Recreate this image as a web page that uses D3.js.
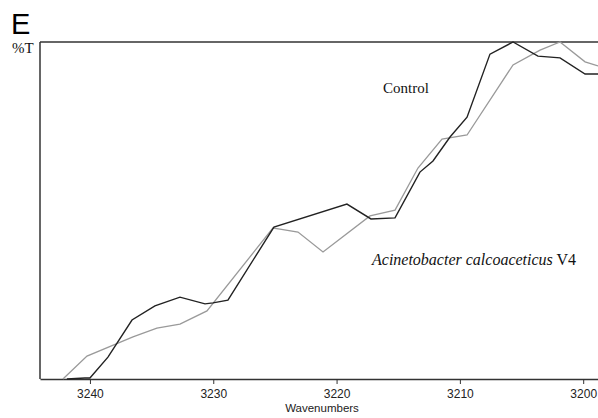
<!DOCTYPE html>
<html lang="en">
<head>
    <meta charset="utf-8">
    <title>FTIR E</title>
    <script type="text/javascript" src="https://d3js.org/d3.v7.min.js"></script>
    <style>
        body{
            margin: 0;
            background: white;
        }
        .axis text{
            font-family: "Liberation Sans", Arial, sans-serif;
            font-size: 12px;
            fill: #222;
        }
        .axis path, .axis line{
            stroke: #333;
        }
        .serif{
            font-family: "Liberation Serif", "Times New Roman", serif;
            fill: #111;
        }
    </style>
</head>
<body>
    <div id="chart"></div>
    <script type="text/javascript">
        // wavenumbers (cm-1) and %T
        const controlWave = [3241.87, 3240.41, 3240.0, 3238.54, 3236.59, 3234.73, 3232.70, 3230.67, 3230.02, 3228.81,
                             3225.08, 3219.16, 3217.21, 3215.26, 3213.24, 3212.18, 3210.80, 3209.42, 3207.56, 3205.69,
                             3203.67, 3201.88, 3199.85, 3198.80];
        const controlT = [0, 0.3, 0.3, 6.5, 17.5, 21.7, 24.3, 22.3, 22.6, 23.4,
                          45.1, 51.9, 47.5, 47.8, 61.4, 64.7, 71.8, 77.7, 96.4, 100,
                          95.8, 95.3, 90.5, 90.5];

        const v4Wave = [3242.19, 3240.24, 3236.51, 3234.57, 3232.70, 3230.51, 3225.16, 3224.59, 3223.13, 3221.10,
                        3217.29, 3215.26, 3213.40, 3211.45, 3209.42, 3205.69, 3203.50, 3201.88, 3199.85, 3198.80];
        const v4T = [0, 6.8, 12.5, 15.1, 16.3, 20.2, 44.8, 44.5, 43.6, 37.7,
                     48.4, 50.1, 62.6, 71.2, 72.4, 93.2, 97.6, 100, 94.1, 92.9];

        const xTicks = [3240, 3230, 3220, 3210, 3200];

        const width = 598;
        const height = 418;
        const margin = {left: 40, right: 0, top: 42, bottom: 39};

        const svg = d3.select("#chart")
            .append("svg")
            .attr("width", width)
            .attr("height", height);

        const x = d3.scaleLinear()
            .domain([3244.05, 3198.8])
            .range([margin.left, width - margin.right]);

        const y = d3.scaleLinear()
            .domain([0, 100])
            .range([height - margin.bottom, margin.top]);

        // frame: top and left lines
        svg.append("line")
            .attr("x1", margin.left).attr("x2", width)
            .attr("y1", margin.top).attr("y2", margin.top)
            .attr("stroke", "#333").attr("stroke-width", 1.5);
        svg.append("line")
            .attr("x1", margin.left).attr("x2", margin.left)
            .attr("y1", margin.top).attr("y2", height - margin.bottom)
            .attr("stroke", "#333").attr("stroke-width", 1.5);

        const xAxis = d3.axisBottom(x)
            .tickValues(xTicks)
            .tickFormat(d3.format("d"))
            .tickSize(5)
            .tickSizeOuter(0)
            .tickPadding(5);

        svg.append("g")
            .attr("class", "axis x")
            .attr("transform", `translate(0, ${height - margin.bottom})`)
            .call(xAxis)
            .call(g => g.select(".domain").attr("stroke-width", 1.5));

        const line = d3.line()
            .x(d => x(d[0]))
            .y(d => y(d[1]));

        const v4 = v4Wave.map((w, i) => [w, v4T[i]]);
        const control = controlWave.map((w, i) => [w, controlT[i]]);

        svg.append("path")
            .datum(v4)
            .attr("fill", "none")
            .attr("stroke", "#9a9a9a")
            .attr("stroke-width", 1.3)
            .attr("d", line);

        svg.append("path")
            .datum(control)
            .attr("fill", "none")
            .attr("stroke", "#222")
            .attr("stroke-width", 1.4)
            .attr("d", line);

        // labels
        svg.append("text")
            .attr("x", 11).attr("y", 34)
            .style("font-family", "'Liberation Sans', Arial, sans-serif")
            .style("font-size", "29px")
            .text("E");

        svg.append("text")
            .attr("class", "serif")
            .attr("x", 12).attr("y", 53)
            .style("font-size", "15px")
            .text("%T");

        svg.append("text")
            .attr("class", "serif")
            .attr("x", 383).attr("y", 93)
            .style("font-size", "15px")
            .text("Control");

        const v4Label = svg.append("text")
            .attr("class", "serif")
            .attr("x", 372).attr("y", 265)
            .style("font-size", "16px");
        v4Label.append("tspan").style("font-style", "italic").text("Acinetobacter calcoaceticus");
        v4Label.append("tspan").text(" V4");

        svg.append("text")
            .attr("x", 322).attr("y", 412)
            .attr("text-anchor", "middle")
            .style("font-family", "'Liberation Sans', Arial, sans-serif")
            .style("font-size", "11.5px")
            .style("fill", "#222")
            .text("Wavenumbers");
    </script>
</body>
</html>
